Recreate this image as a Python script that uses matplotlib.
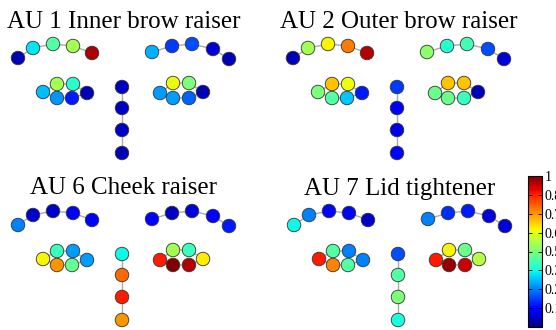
import matplotlib
matplotlib.use('Agg')
import matplotlib.pyplot as plt
from matplotlib.cm import ScalarMappable
from matplotlib.colors import Normalize

titles = ['AU 1 Inner brow raiser', 'AU 2 Outer brow raiser',
          'AU 6 Cheek raiser', 'AU 7 Lid tightener']

# face landmark template (pixel units inside one panel)
brow_l_x = [18, 33, 53, 73, 92]
brow_l_y = [58, 48, 44, 46, 53]
brow_r_x = [152, 172, 192, 213, 229]
brow_r_y = [52, 46, 44, 49, 59]
nose_x = [122, 122, 122, 122]
nose_y = [87, 108, 130, 153]
eye_l_x = [43, 57, 73, 87, 72, 57]
eye_l_y = [92, 84, 84, 93, 98, 98]
eye_r_x = [160, 173, 189, 203, 189, 173]
eye_r_y = [93, 83, 83, 92, 98, 98]

# importance per landmark: left brow, right brow, nose, left eye, right eye
au1_brow_l = [0.05, 0.35, 0.45, 0.55, 0.96]
au1_brow_r = [0.30, 0.18, 0.20, 0.08, 0.05]
au1_nose = [0.06, 0.06, 0.06, 0.05]
au1_eye_l = [0.31, 0.55, 0.40, 0.05, 0.15, 0.27]
au1_eye_r = [0.28, 0.63, 0.50, 0.05, 0.22, 0.28]

au2_brow_l = [0.05, 0.55, 0.65, 0.78, 0.95]
au2_brow_r = [0.52, 0.40, 0.43, 0.20, 0.08]
au2_nose = [0.18, 0.12, 0.09, 0.13]
au2_eye_l = [0.50, 0.70, 0.64, 0.15, 0.32, 0.45]
au2_eye_r = [0.48, 0.70, 0.70, 0.05, 0.42, 0.48]

au6_brow_l = [0.25, 0.07, 0.07, 0.12, 0.11]
au6_brow_r = [0.12, 0.06, 0.08, 0.12, 0.15]
au6_nose = [0.37, 0.80, 0.88, 0.75]
au6_eye_l = [0.65, 0.42, 0.28, 0.28, 0.47, 0.75]
au6_eye_r = [0.88, 0.55, 0.42, 0.66, 0.95, 1.00]

au7_brow_l = [0.37, 0.25, 0.13, 0.13, 0.06]
au7_brow_r = [0.25, 0.17, 0.15, 0.08, 0.08]
au7_nose = [0.20, 0.45, 0.50, 0.38]
au7_eye_l = [0.88, 0.45, 0.25, 0.25, 0.45, 0.77]
au7_eye_r = [0.88, 0.65, 0.48, 0.57, 0.93, 0.98]

panels = [
    (au1_brow_l, au1_brow_r, au1_nose, au1_eye_l, au1_eye_r),
    (au2_brow_l, au2_brow_r, au2_nose, au2_eye_l, au2_eye_r),
    (au6_brow_l, au6_brow_r, au6_nose, au6_eye_l, au6_eye_r),
    (au7_brow_l, au7_brow_r, au7_nose, au7_eye_l, au7_eye_r),
]
offsets = [(0, 0), (275, 0), (0, 167), (276, 167)]

W, H = 556, 330
PW, PH = 250, 163
cmap = plt.get_cmap('jet')
norm = Normalize(0, 1)
SERIF = ['Liberation Serif', 'DejaVu Serif']

fig = plt.figure(figsize=(W / 100, H / 100), dpi=100)

groups = [
    (brow_l_x, brow_l_y, False),
    (brow_r_x, brow_r_y, False),
    (nose_x, nose_y, False),
    (eye_l_x, eye_l_y, True),
    (eye_r_x, eye_r_y, True),
]

for title, vals, (ox, oy) in zip(titles, panels, offsets):
    ax = fig.add_axes([ox / W, 1 - (oy + PH) / H, PW / W, PH / H])
    ax.set_xlim(0, PW)
    ax.set_ylim(PH, 0)
    ax.axis('off')
    ax.text(124, 27.5, title, ha='center', va='baseline', fontsize=18,
            family=SERIF)
    for (gx, gy, closed), gv in zip(groups, vals):
        lx, ly = list(gx), list(gy)
        if closed:
            lx.append(gx[0]); ly.append(gy[0])
        ax.plot(lx, ly, color='#aaaaaa', lw=1, zorder=1, clip_on=False)
        ax.scatter(gx, gy, c=gv, cmap=cmap, norm=norm, s=95,
                   edgecolors='#333333', linewidths=0.6, zorder=2,
                   clip_on=False)

cax = fig.add_axes([528 / W, 1 - 327 / H, 14 / W, 151 / H])
cb = fig.colorbar(ScalarMappable(norm=norm, cmap=cmap), cax=cax)
cb.set_ticks([k / 8 for k in range(1, 9)])
cb.set_ticklabels(['0.125', '0.25', '0.375', '0.5', '0.625', '0.75', '0.875', '1'])
cax.tick_params(direction='in', length=3, width=0.6, labelsize=10,
                left=True, right=True, pad=2)
for lab in cax.get_yticklabels():
    lab.set_family(SERIF)
cb.outline.set_linewidth(0.8)

fig.savefig('out.png', dpi=100)
